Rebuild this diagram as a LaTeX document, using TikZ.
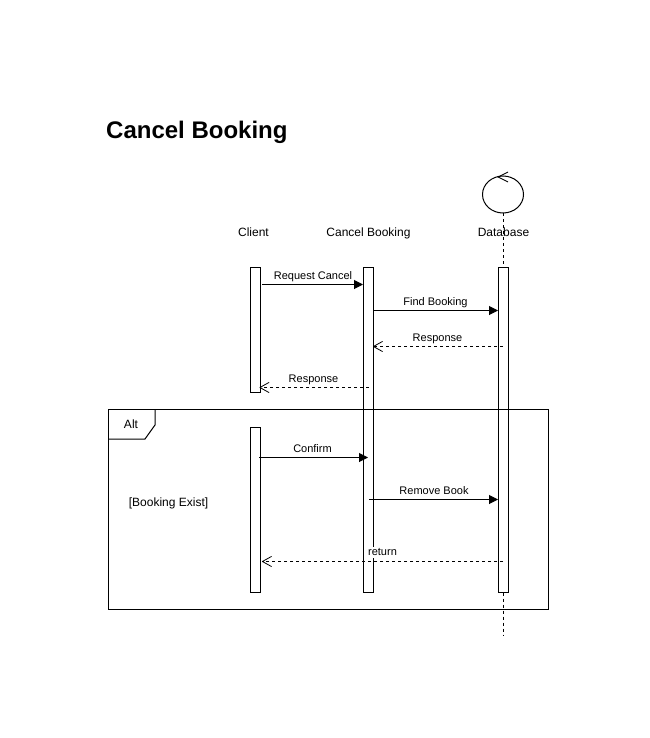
\documentclass[tikz,border=0pt]{standalone}
\usepackage{fontspec}
\setmainfont{Liberation Sans}
\usetikzlibrary{arrows.meta,shapes.geometric}
\tikzset{
  bar/.style={draw=black,fill=white,line width=1pt,minimum width=10pt,inner sep=0pt,outer sep=0pt,anchor=north west},
  lab/.style={font=\fontsize{12}{14}\selectfont,inner sep=0pt,text=black,text height=8.5pt,text depth=2.5pt},
  mlab/.style={lab,font=\fontsize{11}{13}\selectfont},
  msg/.style={line width=1pt,-{Triangle[length=9pt,width=9pt]}},
  ret/.style={line width=1pt,dash pattern=on 3pt off 3pt,draw=black,-{Straight Barb[length=9pt,width=10pt,line width=0.8pt,round,black]}},
  life/.style={line width=1pt,dash pattern=on 3pt off 3pt},
}
\begin{document}
\begin{tikzpicture}[x=1pt,y=-1pt]
\useasboundingbox (0,0) rectangle (649,738);
\fill[white] (0,0) rectangle (649,738);
\node[anchor=west,inner sep=0pt,font=\bfseries\fontsize{24}{28}\selectfont] (title) at (106,132) {Cancel Booking};
% database symbol
\node[draw=black,line width=1pt,ellipse,minimum width=41pt,minimum height=37pt,inner sep=0pt,outer sep=0pt] (dbc) at (503,194.5) {};
\coordinate (dbtop) at (498,177);
\coordinate (dba) at (508,172);
\coordinate (dbb) at (508,182);
\draw[line width=0.9pt] (dba) -- (dbtop) -- (dbb);
% activation bars
\node[bar,minimum height=125pt] (c1) at (250.5,267.5) {};
\node[bar,minimum height=165pt] (c2) at (250.5,427.5) {};
\node[bar,minimum height=325pt] (cb) at (363,267.5) {};
\node[bar,minimum height=325pt] (db) at (498,267.5) {};
% lifeline
\coordinate (dbend) at (503,635);
\draw[life] (dbc.south) -- (db.north);
\draw[life] (db.south) -- (dbend);
% headers
\node[lab] (hc) at (253.5,233) {Client};
\node[lab] (hb) at (368.5,233) {Cancel Booking};
\node[lab] (hd) at (503.5,233) {Database};
% frame
\node[draw=black,line width=1pt,minimum width=440pt,minimum height=200pt,inner sep=0pt,outer sep=0pt,anchor=north west] (frame) at (108.5,409.5) {};
\coordinate (p1) at (155,409.5);
\coordinate (p2) at (155,425);
\coordinate (p3) at (145,439);
\coordinate (p4) at (108.5,439);
\draw[line width=1pt] (p1) -- (p2) -- (p3) -- (p4);
\node[lab] (alt) at (131,425) {Alt};
\node[lab] (guard) at (168.5,503.5) {[Booking Exist]};
% messages
\draw[msg] ([shift={(1.5,17)}]c1.north east) -- ([shift={(0,17)}]cb.north west);
\node[mlab] (m1) at (313,276) {Request Cancel};
\draw[msg] ([shift={(0,43)}]cb.north east) -- ([shift={(0,43)}]db.north west);
\node[mlab] (m2) at (435.5,302) {Find Booking};
\draw[ret] ([shift={(0,79)}]db.north) -- ([shift={(0,79)}]cb.north east);
\node[mlab] (m3) at (437.5,338) {Response};
\draw[ret] ([shift={(6,120)}]cb.north west) -- ([shift={(-1,120)}]c1.north east);
\node[mlab] (m4) at (313.5,379) {Response};
\draw[msg] ([shift={(-1.5,30)}]c2.north east) -- ([shift={(5,30)}]cb.west |- c2.north);
\node[mlab] (m5) at (312.5,449) {Confirm};
\draw[msg] ([shift={(6,232)}]cb.north west) -- ([shift={(0,232)}]db.north west);
\node[mlab] (m6) at (434,491.5) {Remove Book};
\node[mlab,fill=white] (m7) at (382.5,552) {return};
\draw[ret] ([shift={(0,294)}]db.north) -- ([shift={(1.5,134)}]c2.north east);
\end{tikzpicture}
\end{document}
